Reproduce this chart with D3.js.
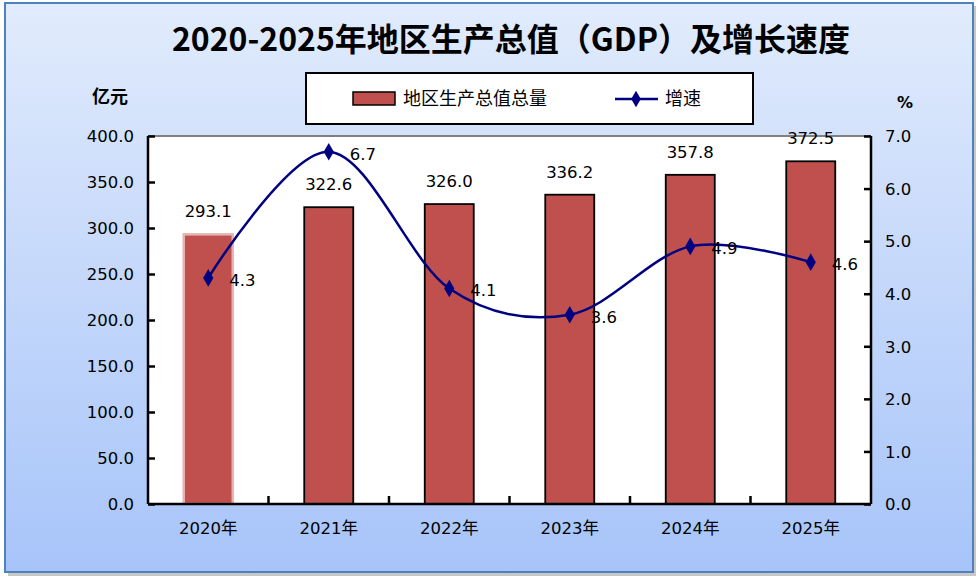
<!DOCTYPE html>
<html><head><meta charset="utf-8">
<script src="https://cdn.jsdelivr.net/npm/d3@7/dist/d3.min.js"></script>
<style>
html,body{margin:0;padding:0;background:#fff;}
svg{display:block;}
</style></head>
<body>
<svg id="chart" width="980" height="584"></svg>
<script>
const categories = ["2020年","2021年","2022年","2023年","2024年","2025年"];
const gdpValues = [293.1, 322.6, 326.0, 336.2, 357.8, 372.5];
const growthValues = [4.3, 6.7, 4.1, 3.6, 4.9, 4.6];
const leftTicks = [0,50,100,150,200,250,300,350,400];
const rightTicks = [0,1,2,3,4,5,6,7];
const titleText = "2020-2025年地区生产总值（GDP）及增长速度";
const leftUnit = "亿元";
const rightUnit = "%";
const barSeriesName = "地区生产总值总量";
const lineSeriesName = "增速";

const svg = d3.select("#chart");
const FONT = "'DejaVu Sans','Noto Sans CJK SC',sans-serif";
const CJK = "'Noto Sans CJK SC','DejaVu Sans',sans-serif";

const defs = svg.append("defs");
const grad = defs.append("linearGradient").attr("id","bg").attr("x1",0).attr("y1",0).attr("x2",0).attr("y2",1);
grad.append("stop").attr("offset","0%").attr("stop-color","#e1ebfc");
grad.append("stop").attr("offset","100%").attr("stop-color","#a7c4f9");

// outer frame with shadow
svg.append("rect").attr("x",8).attr("y",6).attr("width",968).attr("height",570).attr("fill","#c8c8c8");
svg.append("rect").attr("x",5).attr("y",3).attr("width",968).attr("height",569)
  .attr("fill","url(#bg)").attr("stroke","#4f81bd").attr("stroke-width",2);

const m = {left:148, right:871, top:136, bottom:504};
const x = d3.scaleBand().domain(categories).range([m.left, m.right]).paddingInner(0).paddingOuter(0);
const yL = d3.scaleLinear().domain([0,400]).range([m.bottom, m.top]);
const yR = d3.scaleLinear().domain([0,7]).range([m.bottom, m.top]);
const barW = 49;

// plot area
svg.append("rect").attr("x",m.left).attr("y",m.top).attr("width",m.right-m.left).attr("height",m.bottom-m.top)
  .attr("fill","#ffffff");
svg.append("line").attr("x1",m.left).attr("x2",m.right).attr("y1",m.top).attr("y2",m.top)
  .attr("stroke","#808080").attr("stroke-width",2);

// title
svg.append("text").attr("x",511).attr("y",51).attr("text-anchor","middle")
  .attr("font-family",CJK).attr("font-weight",700).attr("font-size",32).attr("fill","#000")
  .text(titleText);

// units
svg.append("text").attr("x",110).attr("y",103).attr("text-anchor","middle")
  .attr("font-family",CJK).attr("font-weight",700).attr("font-size",18).text(leftUnit);
svg.append("text").attr("x",905).attr("y",108).attr("text-anchor","middle")
  .attr("font-family",FONT).attr("font-weight",700).attr("font-size",16).text(rightUnit);

// legend
const lg = svg.append("g");
lg.append("rect").attr("x",306).attr("y",73).attr("width",447).attr("height",51)
  .attr("fill","#fff").attr("stroke","#000").attr("stroke-width",2);
lg.append("rect").attr("x",353).attr("y",92).attr("width",42).attr("height",13)
  .attr("fill","#c0504d").attr("stroke","#000").attr("stroke-width",1.5);
lg.append("text").attr("x",403).attr("y",105).attr("font-family",CJK).attr("font-size",18).text(barSeriesName);
lg.append("line").attr("x1",615).attr("x2",658).attr("y1",99).attr("y2",99).attr("stroke","#000080").attr("stroke-width",2.5);
lg.append("path").attr("d",d3.symbol(d3.symbolDiamond, 80)()).attr("transform","translate(636,99)").attr("fill","#000080");
lg.append("text").attr("x",665).attr("y",105).attr("font-family",CJK).attr("font-size",18).text(lineSeriesName);

// bars
svg.append("g").selectAll("rect").data(gdpValues).join("rect")
  .attr("x",(d,i)=>x(categories[i]) + x.bandwidth()/2 - barW/2)
  .attr("y",d=>yL(d))
  .attr("width",barW)
  .attr("height",d=>yL(0)-yL(d))
  .attr("fill","#c0504d")
  .attr("stroke",(d,i)=> i===0 ? "#e6b3b2" : "#000")
  .attr("stroke-width",(d,i)=> i===0 ? 2.5 : 1.8);

// bar labels
svg.append("g").selectAll("text").data(gdpValues).join("text")
  .attr("x",(d,i)=>x(categories[i]) + x.bandwidth()/2)
  .attr("y",d=>yL(d)-17)
  .attr("text-anchor","middle").attr("font-family",FONT).attr("font-size",16.5).attr("fill","#000")
  .text(d=>d.toFixed(1));

// axes
const axL = d3.axisLeft(yL).tickValues(leftTicks).tickSize(-7).tickPadding(14).tickFormat(d3.format(".1f"));
const gL = svg.append("g").attr("transform",`translate(${m.left},0)`).call(axL);
const axR = d3.axisRight(yR).tickValues(rightTicks).tickSize(-7).tickPadding(14).tickFormat(d3.format(".1f"));
const gR = svg.append("g").attr("transform",`translate(${m.right},0)`).call(axR);
const axB = d3.axisBottom(x).tickSize(0).tickPadding(18);
const gB = svg.append("g").attr("transform",`translate(0,${m.bottom})`).call(axB);
[gL,gR,gB].forEach(g=>{
  g.select(".domain").attr("stroke","#000").attr("stroke-width",2.5);
  g.selectAll(".tick line").attr("stroke","#000").attr("stroke-width",2.5);
  g.selectAll(".tick text").attr("font-family",FONT).attr("font-size",16.5).attr("fill","#000");
});
gL.select(".domain").attr("d",`M0,${m.top}V${m.bottom}`);
gR.select(".domain").attr("d",`M0,${m.top}V${m.bottom}`);
gB.select(".domain").attr("d",`M${m.left},0H${m.right}`);
gB.selectAll(".tick text").attr("dy","0.71em");
gR.selectAll(".tick text").attr("dy","0.35em");
// category boundary ticks (inward)
const bounds = categories.slice(1).map(c=>x(c));
svg.append("g").selectAll("line").data(bounds).join("line")
  .attr("x1",d=>d).attr("x2",d=>d).attr("y1",m.bottom).attr("y2",m.bottom-8)
  .attr("stroke","#000").attr("stroke-width",2.5);

// line
const cx = (i)=> x(categories[i]) + x.bandwidth()/2;
const line = d3.line().x((d,i)=>cx(i)).y(d=>yR(d)).curve(d3.curveCardinal.tension(0));
svg.append("path").datum(growthValues).attr("d",line).attr("fill","none")
  .attr("stroke","#000080").attr("stroke-width",2.5);
svg.append("g").selectAll("path").data(growthValues).join("path")
  .attr("d",d3.symbol(d3.symbolDiamond, 90)())
  .attr("transform",(d,i)=>`translate(${cx(i)},${yR(d)})`)
  .attr("fill","#000080");
svg.append("g").selectAll("text").data(growthValues).join("text")
  .attr("x",(d,i)=>cx(i)+21).attr("y",d=>yR(d)+2).attr("dy","0.36em")
  .attr("font-family",FONT).attr("font-size",16.5).attr("fill","#000")
  .text(d=>d.toFixed(1));
</script>
</body></html>
